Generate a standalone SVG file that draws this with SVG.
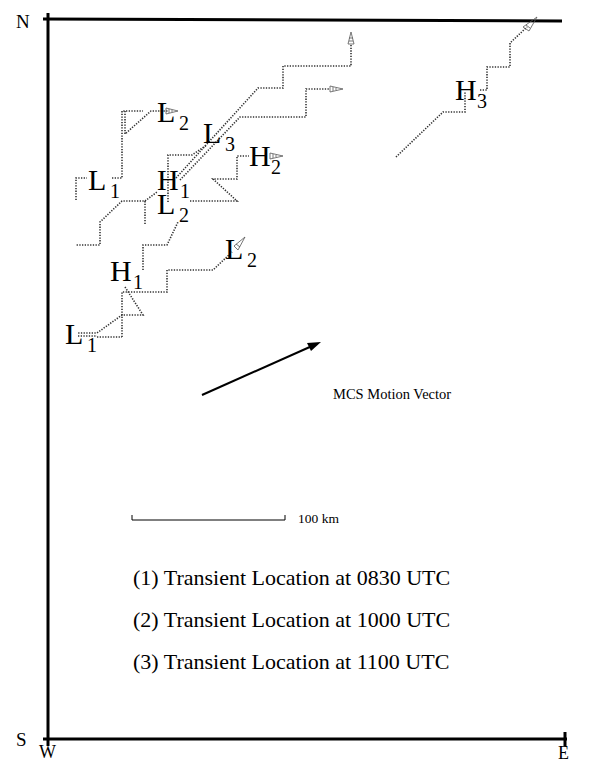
<svg xmlns="http://www.w3.org/2000/svg" width="612" height="763" viewBox="0 0 612 763">
<style>
.frame{stroke:#000;stroke-width:3;fill:none}
.trk{stroke:#333;stroke-width:1.6;stroke-dasharray:1.3 1.4;fill:none}
.ah{stroke:#555;stroke-width:0.8;fill:none}
.lbl{font-family:"Liberation Serif",serif;font-size:30px;fill:#000}
.sub{font-family:"Liberation Serif",serif;font-size:20px;fill:#000}
.txt{font-family:"Liberation Serif",serif;fill:#000}
</style>
<rect width="612" height="763" fill="#fff"/>
<g id="frame">
<line class="frame" x1="48" y1="13" x2="48" y2="746"/>
<line class="frame" x1="43" y1="19" x2="562" y2="21"/>
<line class="frame" x1="43" y1="739" x2="567" y2="739"/>
<line class="frame" x1="565" y1="732" x2="565" y2="746"/>
<text class="txt" x="16" y="28" font-size="19">N</text>
<text class="txt" x="16" y="746" font-size="19">S</text>
<text class="txt" x="39" y="758" font-size="18">W</text>
<text class="txt" x="558" y="759" font-size="18">E</text>
</g>
<g id="connectors">
<!-- upper-left group -->
<path class="trk" d="M76,200 V178 H87 M112,178 H122 V111 H143"/>
<path class="trk" d="M125,111 V134 L151,111 H168"/>
<path class="ah" d="M166,108 L178,111 L166,114 Z M169,109 V113 M172,110 V112"/>
<path class="trk" d="M145,224 V201 H122 L100,222 V245 H76 M145,201 L157,192"/>
<path class="trk" d="M168,202 V155 H192 L207,145"/>
<path class="trk" d="M176,178 L258,88 H283 V66 H351 V44"/>
<path class="ah" d="M348,44 L351,32 L354,44 Z M349,41 H353 M349,38 H353"/>
<path class="trk" d="M180,180 L240,117 H306 V89 H330"/>
<path class="ah" d="M330,86 L343,89 L330,92 Z M333,87 V91 M336,88 V90"/>
<path class="trk" d="M143,270 V245 H167 L178,222 M190,201 H237 L213,179 H237 V156 H249"/>
<path class="ah" d="M270,153 L283,156 L270,159 Z M273,154 V158 M276,155 V157"/>
<!-- lower group -->
<path class="trk" d="M122,337 V292 H167 V270 H213 L232,252"/>
<path class="ah" d="M234,246 L245,237 L238,250 Z M236,244 L240,247"/>
<path class="trk" d="M125,287 L143,315 H122 L97,333 H78"/>
<path class="trk" d="M97,337 H122"/>
<path class="trk" d="M78,336 H97"/>
<!-- H3 group -->
<path class="trk" d="M396,157 L443,112 H465 V92 M480,90 H487 V67 H510 V43 L527,27"/>
<path class="ah" d="M523,27 L537,17 L529,31 Z M526,25 L530,28"/>
<!-- motion vector -->
<line x1="202" y1="395" x2="312" y2="346" stroke="#000" stroke-width="2"/>
<path d="M321,342 L307,343 L311,351 Z" fill="#000"/>
<!-- scale bar -->
<path d="M132,515 V520 H285 V515" stroke="#000" stroke-width="1" fill="none"/>
</g>
<g id="L1a"><text class="lbl" x="88" y="190">L</text><text class="sub" x="110" y="198">1</text></g>
<g id="L2a"><text class="lbl" x="157" y="122">L</text><text class="sub" x="179" y="130">2</text></g>
<g id="H1a"><text class="lbl" x="157" y="190">H</text><text class="sub" x="180" y="198">1</text></g>
<g id="L2b"><text class="lbl" x="157" y="214">L</text><text class="sub" x="179" y="222">2</text></g>
<g id="L3"><text class="lbl" x="203" y="143">L</text><text class="sub" x="225" y="151">3</text></g>
<g id="H2"><text class="lbl" x="249" y="166">H</text><text class="sub" x="271" y="174">2</text></g>
<g id="H3"><text class="lbl" x="455" y="100">H</text><text class="sub" x="477" y="108">3</text></g>
<g id="H1b"><text class="lbl" x="110" y="281">H</text><text class="sub" x="133" y="289">1</text></g>
<g id="L2c"><text class="lbl" x="225" y="259">L</text><text class="sub" x="247" y="267">2</text></g>
<g id="L1b"><text class="lbl" x="65" y="344">L</text><text class="sub" x="87" y="352">1</text></g>
<g id="legend">
<text class="txt" x="333" y="399" font-size="14.5">MCS Motion Vector</text>
<text class="txt" x="298" y="523" font-size="13.5">100 km</text>
<text class="txt" x="133" y="585" font-size="22">(1) Transient Location at 0830 UTC</text>
<text class="txt" x="133" y="627" font-size="22">(2) Transient Location at 1000 UTC</text>
<text class="txt" x="133" y="669" font-size="22">(3) Transient Location at 1100 UTC</text>
</g>
</svg>
